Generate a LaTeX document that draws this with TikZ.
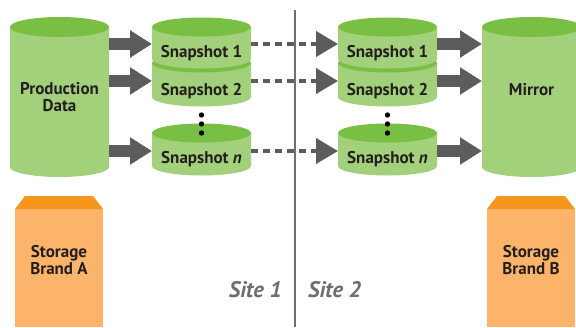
\documentclass[tikz,border=0pt]{standalone}
\usepackage{fontspec}
\setmainfont{PT Sans}
\usetikzlibrary{arrows.meta}
\definecolor{cylbody}{HTML}{A3D07A}
\definecolor{cyltop}{HTML}{79BF43}
\definecolor{arrgray}{HTML}{5C5C5E}
\definecolor{orbody}{HTML}{FBB46A}
\definecolor{ortop}{HTML}{F7961F}
\definecolor{txt}{HTML}{231F20}
\definecolor{sitegray}{HTML}{6D6E71}
% cylinder: centre x, x radius, top y, bottom y, y radius
\newcommand\mycyl[5]{%
  \fill[cylbody] ({#1-#2},#3) -- ({#1-#2},#4)
    arc[start angle=180,end angle=360,x radius=#2pt,y radius=#5pt]
    -- ({#1+#2},#3) -- cycle;
  \fill[cyltop] (#1,#3) ellipse[x radius=#2pt,y radius=#5pt];
}
% storage box: left x, right x, top y
\newcommand\mybox[3]{%
  \fill[orbody] (#1,{#3+13}) rectangle (#2,327);
  \fill[ortop] (#1,{#3+13}) -- ({#1+10},#3) -- ({#2-10},#3) -- (#2,{#3+13}) -- cycle;
}
\begin{document}
\begin{tikzpicture}[x=1pt,y=-1pt,
  lbl/.style={inner sep=0pt,text=txt,font=\fontsize{17}{17}\selectfont\bfseries,align=center},
  sitelbl/.style={inner sep=0pt,text=sitegray,font=\fontsize{22.5}{24}\selectfont\bfseries\itshape},
  bigarrow/.style={draw=arrgray,line width=12pt,-{Triangle[length=22pt,width=26pt]}},
  dasharrow/.style={draw=arrgray,line width=4pt,dash pattern=on 7pt off 5pt,-{Triangle[length=22pt,width=25pt]}},
  dotstyle/.style={circle,fill=black,inner sep=0pt,minimum size=5.4pt},
  divider/.style={draw=sitegray,line width=1.3pt}]
\clip (0,0) rectangle (576,327);
\fill[white] (0,0) rectangle (576,327);

% divider
\coordinate (divtop) at (295,10);
\coordinate (divbot) at (295,327);
\draw[divider] (divtop) -- (divbot);

% production & mirror
\mycyl{59.5}{49.5}{27}{167}{10}
\mycyl{531.5}{49.5}{27}{167}{10}
% left snapshots
\mycyl{201.5}{49.5}{63}{97}{9.5}
\mycyl{201.5}{49.5}{27}{59}{9.5}
\mycyl{201.5}{49.5}{133}{166}{9.5}
% right snapshots
\mycyl{387.5}{49.5}{63}{97}{9.5}
\mycyl{387.5}{49.5}{27}{59}{9.5}
\mycyl{387.5}{49.5}{133}{166}{9.5}

% storage boxes
\mybox{15}{103}{196}
\mybox{487}{575}{196}

% labels
\node[lbl] (prod) at (59.5,97.5) {Production\\Data};
\node[lbl,anchor=base] (mirror) at (531.5,95) {Mirror};
\node[lbl,anchor=base] (s1) at (201.5,57) {Snapshot 1};
\node[lbl,anchor=base] (s2) at (201.5,95) {Snapshot 2};
\node[lbl,anchor=base] (sn) at (201.5,163) {Snapshot \textit{n}};
\node[lbl,anchor=base] (r1) at (387.5,57) {Snapshot 1};
\node[lbl,anchor=base] (r2) at (387.5,95) {Snapshot 2};
\node[lbl,anchor=base] (rn) at (387.5,163) {Snapshot \textit{n}};
\node[lbl] (brandA) at (59,260) {Storage\\Brand A};
\node[lbl] (brandB) at (531,260) {Storage\\Brand B};
\node[sitelbl,anchor=base east] (site1) at (282,297) {Site 1};
\node[sitelbl,anchor=base west] (site2) at (308,297) {Site 2};

% dots
\foreach \y [count=\i] in {115,124,133}{
  \node[dotstyle] (ld\i) at (201.5,\y) {};
  \node[dotstyle] (rd\i) at (387.5,\y) {};
}

% connector end points
\coordinate (prodo1) at (109,44);
\coordinate (prodo2) at (109,81);
\coordinate (prodon) at (109,151);
\coordinate (s1w) at (152,44);
\coordinate (s2w) at (152,81);
\coordinate (snw) at (152,151);
\coordinate (s1e) at (251,44);
\coordinate (s2e) at (251,81);
\coordinate (sne) at (251,151);
\coordinate (r1w) at (338,44);
\coordinate (r2w) at (338,81);
\coordinate (rnw) at (338,151);
\coordinate (r1e) at (437,44);
\coordinate (r2e) at (437,81);
\coordinate (rne) at (437,151);
\coordinate (mirw1) at (482,44);
\coordinate (mirw2) at (482,81);
\coordinate (mirwn) at (482,151);

\draw[bigarrow] (prodo1) -- (s1w);
\draw[bigarrow] (prodo2) -- (s2w);
\draw[bigarrow] (prodon) -- (snw);
\draw[dasharrow] (s1e) -- (r1w);
\draw[dasharrow] (s2e) -- (r2w);
\draw[dasharrow] (sne) -- (rnw);
\draw[bigarrow] (r1e) -- (mirw1);
\draw[bigarrow] (r2e) -- (mirw2);
\draw[bigarrow] (rne) -- (mirwn);
\end{tikzpicture}
\end{document}
